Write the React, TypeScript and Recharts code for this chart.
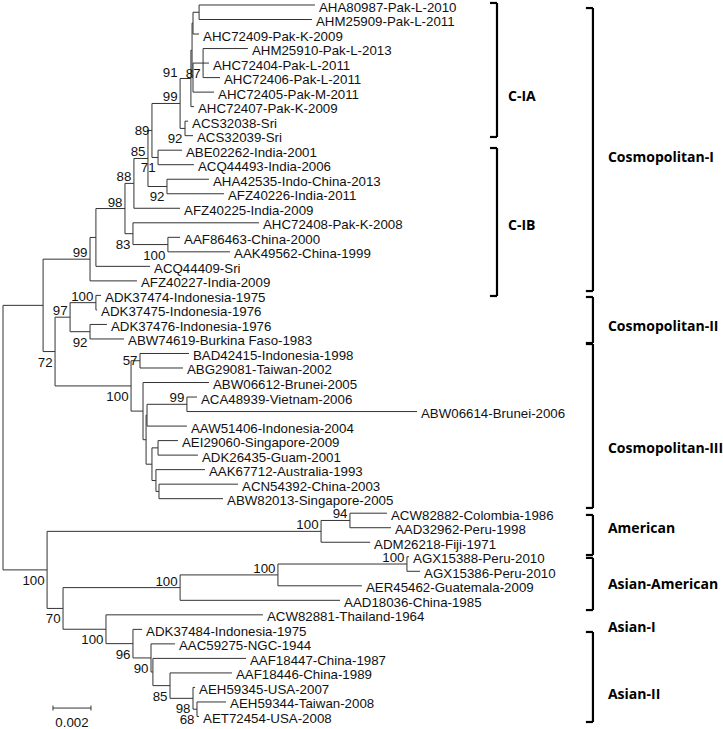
import React from 'react';
import { ComposedChart, Scatter, XAxis, YAxis, ReferenceLine } from 'recharts';

// tips, top to bottom (row index = position in the list)
const leafNames = [
  'AHA80987-Pak-L-2010', 'AHM25909-Pak-L-2011', 'AHC72409-Pak-K-2009', 'AHM25910-Pak-L-2013',
  'AHC72404-Pak-L-2011', 'AHC72406-Pak-L-2011', 'AHC72405-Pak-M-2011', 'AHC72407-Pak-K-2009',
  'ACS32038-Sri', 'ACS32039-Sri', 'ABE02262-India-2001', 'ACQ44493-India-2006',
  'AHA42535-Indo-China-2013', 'AFZ40226-India-2011', 'AFZ40225-India-2009', 'AHC72408-Pak-K-2008',
  'AAF86463-China-2000', 'AAK49562-China-1999', 'ACQ44409-Sri', 'AFZ40227-India-2009',
  'ADK37474-Indonesia-1975', 'ADK37475-Indonesia-1976', 'ADK37476-Indonesia-1976', 'ABW74619-Burkina Faso-1983',
  'BAD42415-Indonesia-1998', 'ABG29081-Taiwan-2002', 'ABW06612-Brunei-2005', 'ACA48939-Vietnam-2006',
  'ABW06614-Brunei-2006', 'AAW51406-Indonesia-2004', 'AEI29060-Singapore-2009', 'ADK26435-Guam-2001',
  'AAK67712-Australia-1993', 'ACN54392-China-2003', 'ABW82013-Singapore-2005', 'ACW82882-Colombia-1986',
  'AAD32962-Peru-1998', 'ADM26218-Fiji-1971', 'AGX15388-Peru-2010', 'AGX15386-Peru-2010',
  'AER45462-Guatemala-2009', 'AAD18036-China-1985', 'ACW82881-Thailand-1964', 'ADK37484-Indonesia-1975',
  'AAC59275-NGC-1944', 'AAF18447-China-1987', 'AAF18446-China-1989', 'AEH59345-USA-2007',
  'AEH59344-Taiwan-2008', 'AET72454-USA-2008',
];

// distance from root to each tip (substitutions / site)
const leafDepth = [
  0.01642, 0.01626, 0.01032, 0.01289, 0.01084, 0.01142, 0.01111, 0.01005, 0.00974, 0.01000,
  0.00942, 0.01005, 0.01084, 0.01163, 0.00932, 0.01347, 0.00932, 0.01195, 0.00774, 0.00705,
  0.00516, 0.00495, 0.00547, 0.00637, 0.00979, 0.00947, 0.01084, 0.01021, 0.02179, 0.00968,
  0.00921, 0.01026, 0.01063, 0.01237, 0.01158, 0.02021, 0.02042, 0.01932, 0.02137, 0.02195,
  0.01889, 0.01774, 0.01368, 0.00732, 0.00905, 0.01279, 0.01205, 0.01011, 0.01174, 0.01032,
];

// internal nodes: id, depth, children (number = tip row), bootstrap, label side
// side: a = above, b = below, m = middle, ap = above, at the parent's end
type Kid = string | number;
const nodes: [string, number, Kid[], string, string][] = [
  ['Na', 0.01032, [0, 1], '', ''],
  ['N1', 0.01000, ['Na', 2], '', ''],
  ['N87', 0.01053, [3, 4, 5], '87', 'b'],
  ['Ny', 0.01000, ['N87', 6], '', ''],
  ['Nx', 0.00995, ['N1', 'Ny'], '', ''],
  ['N91', 0.00989, ['Nx', 7], '91', 'ap'],
  ['N92a', 0.00958, [8, 9], '92', 'b'],
  ['N99a', 0.00932, ['N91', 'N92a'], '99', 'a'],
  ['N71', 0.00816, [10, 11], '71', 'b'],
  ['N89', 0.00784, ['N99a', 'N71'], '89', 'm'],
  ['N92b', 0.00863, [12, 13], '92', 'b'],
  ['N85', 0.00763, ['N89', 'N92b'], '85', 'a'],
  ['N88', 0.00689, ['N85', 14], '88', 'a'],
  ['N100a', 0.00868, [16, 17], '100', 'b'],
  ['N83', 0.00684, [15, 'N100a'], '83', 'b'],
  ['N98', 0.00642, ['N88', 'N83'], '98', 'a'],
  ['NA', 0.00489, ['N98', 18], '', ''],
  ['N99b', 0.00458, ['NA', 19], '99', 'a'],
  ['N100b', 0.00489, [20, 21], '100', 'a'],
  ['N92c', 0.00458, [22, 23], '92', 'b'],
  ['N97', 0.00353, ['N100b', 'N92c'], '97', 'a'],
  ['N57', 0.00721, [24, 25], '57', 'm'],
  ['N99c', 0.00968, [27, 28], '99', 'a'],
  ['NX', 0.00758, ['N99c', 29], '', ''],
  ['NP', 0.00816, [30, 31], '', ''],
  ['NR', 0.00821, [33, 34], '', ''],
  ['NQ', 0.00805, [32, 'NR'], '', ''],
  ['NN', 0.00784, ['NP', 'NQ'], '', ''],
  ['NM', 0.00753, ['NX', 'NN'], '', ''],
  ['NL', 0.00737, [26, 'NM'], '', ''],
  ['N100c', 0.00674, ['N57', 'NL'], '100', 'b'],
  ['N72', 0.00274, ['N97', 'N100c'], '72', 'b'],
  ['NC', 0.00211, ['N99b', 'N72'], '', ''],
  ['N94', 0.01826, [35, 36], '94', 'a'],
  ['NAm', 0.01674, ['N94', 37], '100', 'a'],
  ['NPeru', 0.02126, [38, 39], '100', 'a'],
  ['NQ1', 0.01447, ['NPeru', 40], '100', 'a'],
  ['NAsAm', 0.00932, ['NQ1', 41], '100', 'a'],
  ['N68', 0.01021, [48, 49], '68', 'b'],
  ['NX3', 0.01000, [47, 'N68'], '98', 'b'],
  ['N85b', 0.00879, [46, 'NX3'], '85', 'b'],
  ['NX2', 0.00789, [45, 'N85b'], '', ''],
  ['N90', 0.00779, [44, 'NX2'], '90', 'b'],
  ['N96', 0.00684, [43, 'N90'], '96', 'b'],
  ['NAs', 0.00542, [42, 'N96'], '100', 'b'],
  ['N70', 0.00316, ['NAsAm', 'NAs'], '70', 'b'],
  ['NO', 0.00232, ['NAm', 'N70'], '100', 'b'],
  ['root', 0, ['NC', 'NO'], '', ''],
];

// clade brackets (rows) and labels
const cladeNames = ['C-IA', 'C-IB', 'Cosmopolitan-I', 'Cosmopolitan-II', 'Cosmopolitan-III',
  'American', 'Asian-American', 'Asian-I', 'Asian-II'];
const cladeSpan: ([number, number] | null)[] = [
  [-0.14, 9.09], [9.85, 20.04], [0.21, 19.7], [20.11, 23.28], [23.35, 34.64],
  [35.12, 37.88], [38.08, 41.67], null, [43.18, 49.38],
];
const cladeLabelRow = [6.27, 15.15, 10.47, 22.1, 30.5, 36.02, 39.9, 42.84, 47.45];
const cladeInner = [true, true, false, false, false, false, false, false, false];

const SCALE_BAR = 0.002;
const scaleBarStart = 0.00263;
const scaleBarRow = 48.42;

const X_DOMAIN: [number, number] = [-0.000158, 0.037895];
const Y_DOMAIN: [number, number] = [-0.344, 49.862];
const BRACKET_X = { inner: 0.026, outer: 0.03105 };
const LABEL_X = { inner: 0.02658, outer: 0.03184 };
const TICK = 0.00037;

const byId: Record<string, { depth: number; kids: Kid[] }> = {};
const parentOf: Record<string, string> = {};
nodes.forEach(([id, depth, kids]) => {
  byId[id] = { depth, kids };
  kids.forEach(k => { if (typeof k === 'string') parentOf[k] = id; });
});
const yOf = (k: Kid): number => {
  if (typeof k === 'number') return k;
  const kids = byId[k].kids;
  return (yOf(kids[0]) + yOf(kids[kids.length - 1])) / 2;
};
const depthOf = (k: Kid) => (typeof k === 'number' ? leafDepth[k] : byId[k].depth);

const branches: [number, number, number, number][] = [];
nodes.forEach(([, depth, kids]) => {
  const ys = kids.map(yOf);
  branches.push([depth, Math.min(...ys), depth, Math.max(...ys)]);
  kids.forEach((k, i) => branches.push([depth, ys[i], depthOf(k), ys[i]]));
});

const brackets: [number, number, number, number][] = [];
cladeSpan.forEach((s, i) => {
  if (!s) return;
  const x = cladeInner[i] ? BRACKET_X.inner : BRACKET_X.outer;
  brackets.push([x, s[0], x, s[1]]);
  brackets.push([x - TICK, s[0], x, s[0]]);
  brackets.push([x - TICK, s[1], x, s[1]]);
});

const scaleSegs: [number, number, number, number][] = [
  [scaleBarStart, scaleBarRow, scaleBarStart + SCALE_BAR, scaleBarRow],
  [scaleBarStart, scaleBarRow - 0.17, scaleBarStart, scaleBarRow + 0.17],
  [scaleBarStart + SCALE_BAR, scaleBarRow - 0.17, scaleBarStart + SCALE_BAR, scaleBarRow + 0.17],
];

const leafData = leafNames.map((name, i) => ({ x: leafDepth[i], y: i, name }));
const supportData = nodes
  .filter(n => n[3])
  .map(([id, depth, , support, side]) => ({
    x: side === 'ap' ? byId[parentOf[id]].depth : depth,
    y: yOf(id),
    support,
    side,
  }));
const cladeData = cladeNames.map((name, i) => ({
  x: cladeInner[i] ? LABEL_X.inner : LABEL_X.outer,
  y: cladeLabelRow[i],
  name,
}));
const scaleLabel = [{ x: scaleBarStart + SCALE_BAR / 2, y: scaleBarRow, name: String(SCALE_BAR) }];

const FONT = '"Liberation Sans", Arial, sans-serif';

const LeafText = (p: any) => (
  <text x={p.cx + 4} y={p.cy + 6.5} fontFamily={FONT} fontSize={13.3} fill="#111">
    {p.payload.name}
  </text>
);

const SupportText = (p: any) => {
  const side = p.payload.side;
  const dy = side === 'b' ? 15 : side === 'm' ? 4.5 : -2;
  return (
    <text x={p.cx - 2.5} y={p.cy + dy} textAnchor="end" fontFamily={FONT} fontSize={13.3} fill="#111">
      {p.payload.support}
    </text>
  );
};

const CladeText = (p: any) => (
  <text x={p.cx} y={p.cy} dy="0.35em" fontFamily='"Open Sans", sans-serif' fontWeight={700}
    fontSize={14} fill="#000">
    {p.payload.name}
  </text>
);

const ScaleText = (p: any) => (
  <text x={p.cx} y={p.cy + 19} textAnchor="middle" fontFamily={FONT} fontSize={13.3} fill="#111">
    {p.payload.name}
  </text>
);

export default function App() {
  return (
    <div style={{ position: 'absolute', left: 0, top: 0, background: '#fff' }}>
      <ComposedChart width={723} height={729} margin={{ top: 0, right: 0, bottom: 0, left: 0 }}>
        <XAxis type="number" dataKey="x" domain={X_DOMAIN} allowDataOverflow hide />
        <YAxis type="number" dataKey="y" domain={Y_DOMAIN} allowDataOverflow reversed hide />
        {branches.map(([x1, y1, x2, y2], i) => (
          <ReferenceLine key={`b${i}`} segment={[{ x: x1, y: y1 }, { x: x2, y: y2 }]}
            stroke="#333" strokeWidth={1} ifOverflow="visible" />
        ))}
        {brackets.map(([x1, y1, x2, y2], i) => (
          <ReferenceLine key={`k${i}`} segment={[{ x: x1, y: y1 }, { x: x2, y: y2 }]}
            stroke="#000" strokeWidth={2.2} ifOverflow="visible" />
        ))}
        {scaleSegs.map(([x1, y1, x2, y2], i) => (
          <ReferenceLine key={`s${i}`} segment={[{ x: x1, y: y1 }, { x: x2, y: y2 }]}
            stroke="#333" strokeWidth={1} ifOverflow="visible" />
        ))}
        <Scatter data={leafData} shape={LeafText} isAnimationActive={false} />
        <Scatter data={supportData} shape={SupportText} isAnimationActive={false} />
        <Scatter data={cladeData} shape={CladeText} isAnimationActive={false} />
        <Scatter data={scaleLabel} shape={ScaleText} isAnimationActive={false} />
      </ComposedChart>
    </div>
  );
}
